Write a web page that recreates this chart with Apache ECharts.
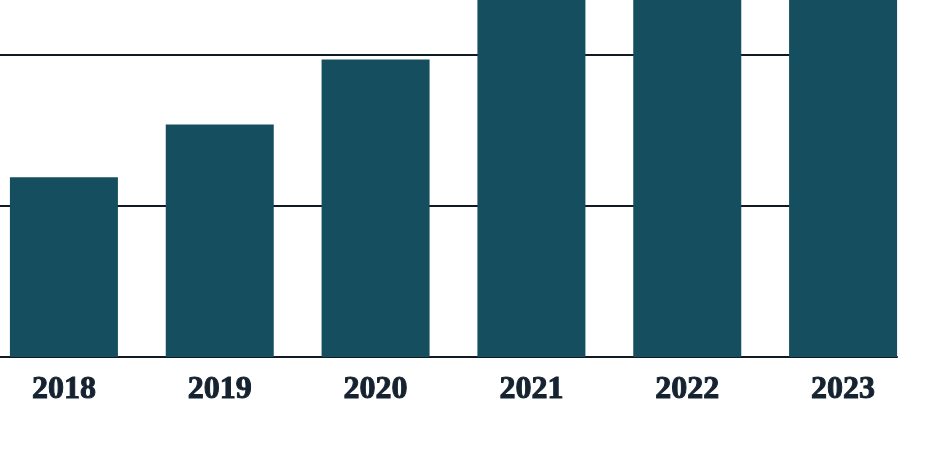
<!DOCTYPE html>
<html><head><meta charset="utf-8">
<script src="https://cdn.jsdelivr.net/npm/echarts@6/dist/echarts.min.js"></script>
<style>html,body{margin:0;padding:0;background:#fff;overflow:hidden;width:940px;height:461px;position:relative}#c{position:absolute;left:-14px;top:-96px;width:954px;height:557px}</style>
</head><body><div id="c"></div>
<script>
const categories = ['2018','2019','2020','2021','2022','2023'];
const values = [119, 154, 197, 262, 280, 300];
const yTicks = [0, 100, 200, 300];

const chart = echarts.init(document.getElementById('c'));
chart.setOption({
  animation: false,
  grid: [
    {left: 0, right: 19, top: 0, bottom: 104},
    {left: 14, right: 43, top: 0, bottom: 104}
  ],
  xAxis: [
    {type: 'category', gridIndex: 0, data: categories,
     axisLine: {show: false}, axisTick: {show: false},
     axisLabel: {color: '#15222f', fontFamily: 'Liberation Serif', fontWeight: 'bold', fontSize: 32, margin: 17,
                 textBorderColor: '#15222f', textBorderWidth: 1}},
    {type: 'category', gridIndex: 1, data: categories, show: true,
     axisLine: {show: true, lineStyle: {color: '#101a24', width: 2}}, axisTick: {show: false}, axisLabel: {show: false}}
  ],
  yAxis: [
    {type: 'value', gridIndex: 0, min: yTicks[0], max: yTicks[yTicks.length-1], interval: 100, show: false, splitLine: {show: false}},
    {type: 'value', gridIndex: 1, min: yTicks[0], max: yTicks[yTicks.length-1], interval: 100,
     axisLabel: {show: false}, axisLine: {show: false}, axisTick: {show: false},
     splitLine: {show: true, lineStyle: {color: '#101a24', width: 2}}}
  ],
  series: [{
    type: 'bar', xAxisIndex: 0, yAxisIndex: 0, data: values,
    barWidth: 108, itemStyle: {color: '#154e5f'}, z: 5
  }]
});
</script></body></html>
